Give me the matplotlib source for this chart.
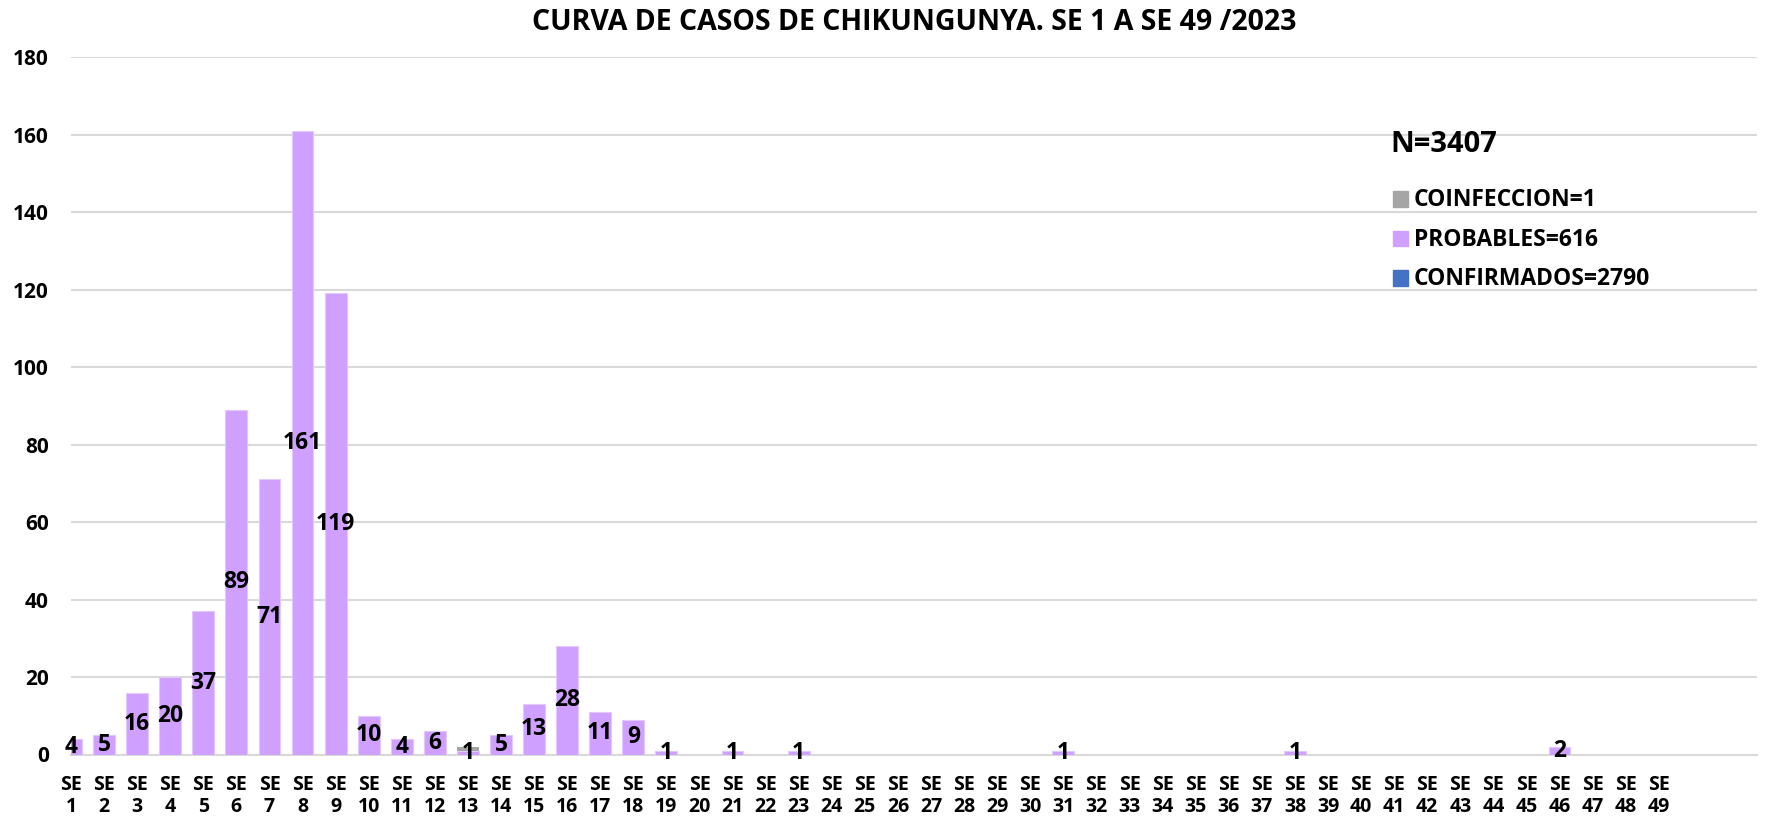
import matplotlib
matplotlib.use("Agg")
import matplotlib.pyplot as plt
from matplotlib.patches import Rectangle
import numpy as np

weeks = [f"SE\n{i}" for i in range(1, 50)]
probables = [4, 5, 16, 20, 37, 89, 71, 161, 119, 10, 4, 6, 1, 5, 13, 28, 11, 9, 1, 0,
             1, 0, 1, 0, 0, 0, 0, 0, 0, 0, 1, 0, 0, 0, 0, 0, 0, 1, 0, 0,
             0, 0, 0, 0, 0, 2, 0, 0, 0]
coinfeccion = [0] * 49
coinfeccion[12] = 1
confirmados = [0] * 49

title = "CURVA DE CASOS DE CHIKUNGUNYA. SE 1 A SE 49 /2023"
legend_labels = ["COINFECCION=1", "PROBABLES=616", "CONFIRMADOS=2790"]
total_label = "N=3407"

c_prob = "#CFA0FF"
c_coinf = "#A5A5A5"
c_conf = "#4472C4"
legend_colors = [c_coinf, c_prob, c_conf]

plt.rcParams['font.family'] = ['Open Sans', 'DejaVu Sans']

W, H = 1771, 816
fig = plt.figure(figsize=(W / 100, H / 100), dpi=100)
ax = fig.add_axes([71 / W, 1 - 754.5 / H, (1757 - 71) / W, (754.5 - 57) / H])

x = np.arange(len(weeks))
w = 0.66
prob = np.array(probables)
coin = np.array(coinfeccion)
conf = np.array(confirmados)

ax.bar(x, conf, w, color=c_conf, linewidth=0, zorder=3)
ax.bar(x, prob, w, bottom=conf, color=c_prob, edgecolor='#E2C8FF', linewidth=0.8, zorder=3)
ax.bar(x, coin, w, bottom=conf + prob, color=c_coinf, linewidth=0, zorder=3)

for xi, v in zip(x, prob):
    if v > 0:
        ax.text(xi, v / 2, str(v), ha='center', va='center', fontsize=16.5,
                fontweight='bold', color='black', zorder=5, clip_on=False)

ax.set_xlim(0, 50.97)
ax.set_ylim(0, 180)
ax.set_yticks(range(0, 181, 20))
ax.set_xticks(x)
ax.set_xticklabels(weeks, fontsize=14, fontweight='bold', linespacing=1.15)
ax.tick_params(axis='both', length=0)
ax.tick_params(axis='x', pad=14.5)
ax.tick_params(axis='y', pad=16, labelsize=15)
for lbl in ax.get_yticklabels():
    lbl.set_fontweight('bold')
ax.grid(axis='y', color='#D9D9D9', linewidth=1.5, zorder=0)
for s in ['top', 'right', 'left']:
    ax.spines[s].set_visible(False)
ax.spines['bottom'].set_color('#D9D9D9')
ax.spines['bottom'].set_linewidth(1.5)

fig.text(914 / W, 1 - 22.5 / H, title, ha='center', va='center', fontsize=20.5, fontweight='bold')

fig.text(1390 / W, 1 - 145 / H, total_label, ha='left', va='center', fontsize=21, fontweight='bold')

for i, (lbl, c) in enumerate(zip(legend_labels, legend_colors)):
    yc = 199 + i * 39.5
    fig.patches.append(Rectangle((1393 / W, 1 - (yc + 7.5) / H), 15 / W, 15 / H,
                                 transform=fig.transFigure, color=c, figure=fig))
    fig.text(1414 / W, 1 - (yc + 1) / H, lbl, ha='left', va='center', fontsize=16.5, fontweight='bold')

fig.savefig("out.png", dpi=100, facecolor='white')
